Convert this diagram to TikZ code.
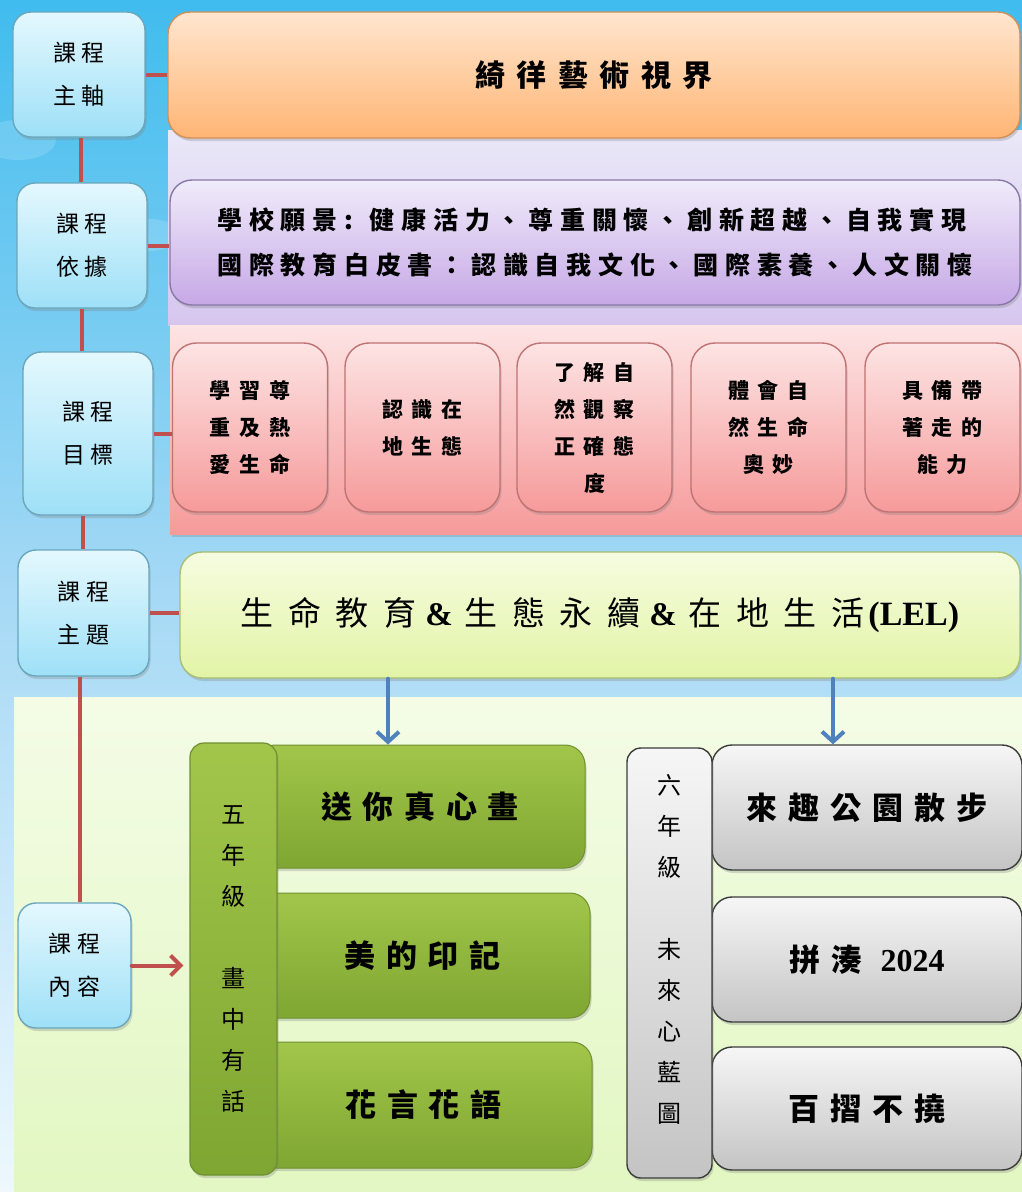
\documentclass[tikz,border=0pt]{standalone}
\usepackage{fontspec}
\newfontfamily\cjk{Noto Sans CJK TC}
\newfontfamily\latin{Liberation Serif}
\usetikzlibrary{arrows.meta,shadows}
\definecolor{skytop}{HTML}{40BCEE}
\definecolor{skymid}{HTML}{A6D9F5}
\definecolor{skybot}{HTML}{EEF8FD}
\definecolor{lbltop}{HTML}{E4F8FE}
\definecolor{lblbot}{HTML}{9EE0F7}
\definecolor{lblline}{HTML}{6AA6BC}
\definecolor{orgtop}{HTML}{FFE6CF}
\definecolor{orgbot}{HTML}{FFB574}
\definecolor{orgline}{HTML}{D0905A}
\definecolor{lavtop}{HTML}{EAE8F8}
\definecolor{lavbot}{HTML}{D6C6EE}
\definecolor{purtop}{HTML}{F0ECFA}
\definecolor{purbot}{HTML}{C6A8E6}
\definecolor{purline}{HTML}{8878A6}
\definecolor{pnktop}{HTML}{FDE4E4}
\definecolor{pnkbot}{HTML}{F69A9A}
\definecolor{pnkline}{HTML}{BE7272}
\definecolor{lemtop}{HTML}{F6FCE0}
\definecolor{lembot}{HTML}{E2F4A6}
\definecolor{lemline}{HTML}{A8BE72}
\definecolor{meadtop}{HTML}{F4FCE6}
\definecolor{meadbot}{HTML}{E2F7C2}
\definecolor{leaftop}{HTML}{A2C64A}
\definecolor{leafbot}{HTML}{7FA632}
\definecolor{leafline}{HTML}{6E9030}
\definecolor{stonetop}{HTML}{F6F6F6}
\definecolor{stonebot}{HTML}{C4C4C4}
\definecolor{stoneline}{HTML}{3C3C3C}
\definecolor{linkred}{HTML}{C0504D}
\definecolor{linkblue}{HTML}{4F81BD}
\newcommand{\amp}{\hspace{9pt}{\latin\bfseries\&}\hspace{12pt}}
\begin{document}
\begin{tikzpicture}[x=1pt,y=-1pt,line cap=round,line join=round,
  shade/.style={drop shadow={shadow xshift=1.5pt,shadow yshift=-3pt,opacity=0.3}},
  lbl/.style={shade,draw=lblline,line width=1.4pt,rounded corners=18pt,top color=lbltop,bottom color=lblbot,
    inner sep=0pt,align=center,font=\cjk\fontsize{23}{43}\selectfont\addfontfeature{LetterSpace=22}},
  bigbox/.style={shade,line width=1.4pt,rounded corners=22pt,inner sep=0pt,align=center},
  goalbox/.style={shade,draw=pnkline,line width=1.4pt,rounded corners=24pt,top color=pnktop,bottom color=pnkbot,
    minimum width=155pt,minimum height=169pt,inner sep=0pt,align=center,
    font=\cjk\bfseries\fontsize{21}{37}\selectfont\addfontfeature{LetterSpace=42}},
  leafbox/.style={shade,draw=leafline,line width=1pt,rounded corners=20pt,top color=leaftop,bottom color=leafbot,
    inner sep=0pt,font=\cjk\bfseries\fontsize{31}{36}\selectfont\addfontfeature{LetterSpace=34}},
  stonebox/.style={shade,draw=stoneline,line width=1.4pt,rounded corners=20pt,top color=stonetop,bottom color=stonebot,
    inner sep=0pt,font=\cjk\bfseries\fontsize{31}{36}\selectfont\addfontfeature{LetterSpace=36}},
  vbar/.style={shade,line width=1.2pt,rounded corners=14pt,inner sep=0pt},
  vtext/.style={align=center,font=\cjk\fontsize{24}{41}\selectfont},
  redlink/.style={draw=linkred,line width=4pt,line cap=butt},
  bluearrow/.style={draw=linkblue,line width=4pt,-{Straight Barb[length=10pt,width=22pt]}},
  redarrow/.style={draw=linkred,line width=4pt,-{Straight Barb[length=10pt,width=20pt]}}]
\useasboundingbox (0,0) rectangle (1022,1192);
% background and bands
\fill[top color=skytop,bottom color=skybot,middle color=skymid] (0,0) rectangle (1022,1192);
\fill[white,opacity=0.15] (18,140) ellipse (38pt and 20pt);
\fill[white,opacity=0.15] (150,235) ellipse (28pt and 16pt);
\fill[top color=lavtop,bottom color=lavbot] (168,130) rectangle (1022,325);
\fill[shade,top color=pnktop,bottom color=pnkbot] (170,325) rectangle (1022,534);
\fill[top color=meadtop,bottom color=meadbot] (14,697) rectangle (1022,1192);

% left column
\node[lbl,minimum width=132pt,minimum height=125pt] (axis) at (79,74.5) {課程\\主軸};
\node[lbl,minimum width=130pt,minimum height=125pt] (basis) at (82,245.5) {課程\\依據};
\node[lbl,minimum width=130pt,minimum height=163pt] (goal) at (88,433.5) {課程\\目標};
\node[lbl,minimum width=131pt,minimum height=126pt] (topic) at (83.5,613) {課程\\主題};
\node[lbl,minimum width=113pt,minimum height=125pt] (content) at (74.5,965.5) {課程\\內容};

% right column
\node[bigbox,draw=orgline,top color=orgtop,bottom color=orgbot,minimum width=852pt,minimum height=126pt,
  font=\cjk\bfseries\fontsize{30}{36}\selectfont\addfontfeature{LetterSpace=38}] (vision) at (594,75) {綺徉藝術視界};
\node[bigbox,draw=purline,top color=purtop,bottom color=purbot,minimum width=850pt,minimum height=125pt,align=left,
  font=\cjk\bfseries\fontsize{25}{45}\selectfont\addfontfeature{LetterSpace=27}] (basisbox) at (595,242.5)
  {學校願景: 健康活力、尊重關懷、創新超越、自我實現\\國際教育白皮書：認識自我文化、國際素養、人文關懷};
\node[goalbox] (goal1) at (250,427.5) {學習尊\\重及熱\\愛生命};
\node[goalbox] (goal2) at (422.5,427.5) {認識在\\地生態};
\node[goalbox] (goal3) at (594.5,427.5) {了解自\\然觀察\\正確態\\度};
\node[goalbox] (goal4) at (768.5,427.5) {體會自\\然生命\\奧妙};
\node[goalbox] (goal5) at (942.5,427.5) {具備帶\\著走的\\能力};
\node[bigbox,draw=lemline,top color=lemtop,bottom color=lembot,minimum width=840pt,minimum height=126pt,
  font=\cjk\fontsize{33}{36}\selectfont\addfontfeature{LetterSpace=44}] (topicbox) at (600,615)
  {生命教育\amp 生態永續\amp 在地生活\hspace{4pt}{\latin\bfseries\fontsize{34}{36}\selectfont(LEL)}};

% grade five
\node[leafbox,minimum width=330pt,minimum height=123pt] (art1) at (420,806.5) {送你真心畫};
\node[leafbox,minimum width=335pt,minimum height=125pt] (art2) at (422.5,955.5) {美的印記};
\node[leafbox,minimum width=337pt,minimum height=126pt] (art3) at (423.5,1105) {花言花語};
\node[vbar,draw=leafline,top color=leaftop,bottom color=leafbot,minimum width=87pt,minimum height=432pt] (bar5)
  at (233.5,959) {};
\node[vtext] (grade5) at (bar5.center) {五\\年\\級\\[41pt]畫\\中\\有\\話};

% grade six
\node[stonebox,minimum width=310pt,minimum height=125pt] (six1) at (867,807.5) {來趣公園散步};
\node[stonebox,minimum width=310pt,minimum height=125pt] (six2) at (867,959.5) {拼湊 {\latin\fontsize{32}{36}\selectfont 2024}};
\node[stonebox,minimum width=310pt,minimum height=123pt] (six3) at (867,1108.5) {百摺不撓};
\node[vbar,draw=stoneline,line width=1.4pt,top color=stonetop,bottom color=stonebot,minimum width=85pt,minimum height=430pt] (bar6)
  at (669.5,963) {};
\node[vtext] (grade6) at ([yshift=14pt]bar6.center) {六\\年\\級\\[41pt]未\\來\\心\\藍\\圖};

% connectors
\draw[redlink] (axis.south -| 81,0) -- (basis.north -| 81,0);
\draw[redlink] (basis.south -| 82,0) -- (goal.north -| 82,0);
\draw[redlink] (goal.south -| 83,0) -- (topic.north -| 83,0);
\draw[redlink] (topic.south -| 80,0) -- (content.north -| 80,0);
\draw[redlink] (axis.east) -- (axis.east -| vision.west);
\draw[redlink] (basis.east) -- (basis.east -| basisbox.west);
\draw[redlink] (goal.east) -- (goal.east -| goal1.west);
\draw[redlink] (topic.east) -- (topic.east -| topicbox.west);
\draw[redarrow,shorten >=6pt] (content.east) -- (content.east -| bar5.west);
\draw[bluearrow] ([xshift=-32pt]art1.north |- topicbox.south) -- ([xshift=-32pt]art1.north);
\draw[bluearrow] ([xshift=-34pt]six1.north |- topicbox.south) -- ([xshift=-34pt]six1.north);
\end{tikzpicture}
\end{document}
